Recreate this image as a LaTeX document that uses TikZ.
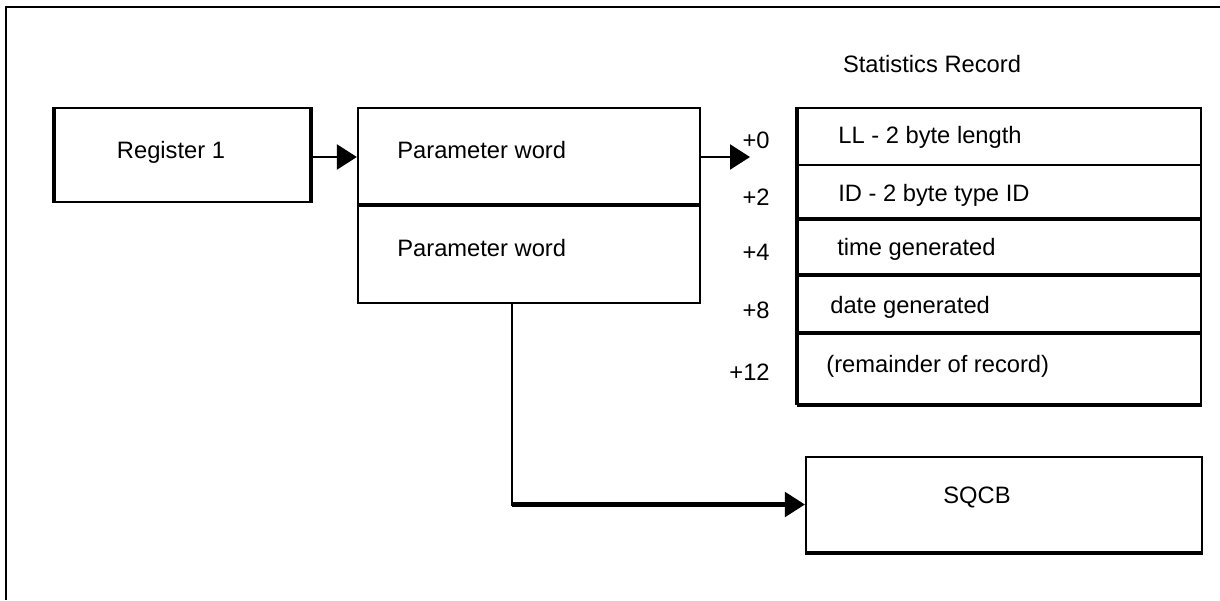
\documentclass[tikz,border=0pt]{standalone}
\usepackage{fontspec}
\setmainfont{Liberation Sans}
\usetikzlibrary{arrows.meta}

\tikzset{
  box/.style={draw, line width=1.3pt, inner sep=0pt},
  heavy/.style={line width=2.3pt},
  link/.style={line width=1.3pt, -{Triangle[length=0.4cm, width=0.5cm]}},
  txt/.style={font=\fontsize{13.5}{16}\selectfont, inner sep=0pt},
  offs/.style={txt, anchor=east}
}

\begin{document}
\begin{tikzpicture}[x=0.02cm, y=-0.02cm]
  \useasboundingbox (0,0) rectangle (1220,600);

  % Frame
  \draw[line width=1.6pt] (6,600) -- (6,7) -- (1220,7);

  % Register and parameter list
  \node[box, minimum width=255*0.02cm, minimum height=94*0.02cm] (reg) at (182.5,155) {};
  \node[txt] (regtxt) at (171,152) {Register 1};
  \draw[heavy] (reg.north west) -- (reg.south west);
  \draw[heavy] (reg.north east) -- (reg.south east);
  \node[box, minimum width=342*0.02cm, minimum height=98*0.02cm] (pw1) at (529,157) {};
  \node[box, minimum width=342*0.02cm, minimum height=97*0.02cm] (pw2) at (529,254.5) {};
  \node[txt, anchor=west] (pw1txt) at (397,150) {Parameter word};
  \node[txt, anchor=west] (pw2txt) at (397,248) {Parameter word};
  \draw[heavy] (pw2.north west) -- (pw2.north east);

  % Statistics record
  \node[txt] (title) at (932,64) {Statistics Record};
  \node[box, minimum width=403*0.02cm, minimum height=57*0.02cm] (r0) at (999.5,136.5) {};
  \node[box, minimum width=403*0.02cm, minimum height=55*0.02cm] (r2) at (999.5,192.5) {};
  \node[box, minimum width=403*0.02cm, minimum height=56*0.02cm] (r4) at (999.5,248) {};
  \node[box, minimum width=403*0.02cm, minimum height=58*0.02cm] (r8) at (999.5,305) {};
  \node[box, minimum width=403*0.02cm, minimum height=70*0.02cm] (r12) at (999.5,369) {};
  \draw[heavy] (r4.north west) -- (r4.north east);
  \draw[heavy] (r8.north west) -- (r8.north east);
  \draw[heavy] (r12.north west) -- (r12.north east);
  \draw[heavy] (r12.south west) -- (r12.south east);
  \draw[heavy] (r0.north west) -- (r12.south west);

  \node[txt, anchor=west] (t0) at (838,137) {LL - 2 byte length};
  \node[txt, anchor=west] (t2) at (838,195) {ID - 2 byte type ID};
  \node[txt, anchor=west] (t4) at (837,249) {time generated};
  \node[txt, anchor=west] (t8) at (830,307) {date generated};
  \node[txt, anchor=west] (t12) at (826,366) {(remainder of record)};

  \node[offs] (o0) at (770,140) {+0};
  \node[offs] (o2) at (770,197) {+2};
  \node[offs] (o4) at (770,252) {+4};
  \node[offs] (o8) at (770,310) {+8};
  \node[offs] (o12) at (770,372) {+12};

  % SQCB
  \node[box, minimum width=396*0.02cm, minimum height=95*0.02cm] (sqcb) at (1004,504.5) {};
  \node[txt] (sqcbtxt) at (977,497) {SQCB};
  \draw[heavy] (sqcb.south west) -- (sqcb.south east);

  % Pointers
  \coordinate (tip0) at (750,157);
  \coordinate (drop) at (512,303);
  \draw[link] (reg.east |- pw1.west) -- (pw1.west);
  \draw[link] (pw1.east) -- (tip0);
  \draw[link] (drop) |- (sqcb.west);
  \draw[heavy] (drop |- sqcb.west) -- ([xshift=-0.3cm]sqcb.west);

\end{tikzpicture}
\end{document}
